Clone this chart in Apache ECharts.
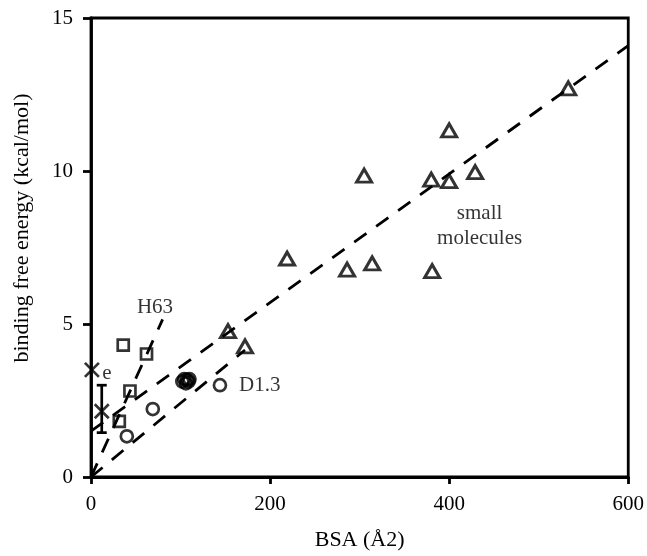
<!DOCTYPE html>
<html>
<head>
<meta charset="utf-8">
<script src="https://cdn.jsdelivr.net/npm/echarts@6/dist/echarts.min.js"></script>
<style>
  html, body { margin: 0; padding: 0; background: #fff; overflow: hidden; }
  #chart { width: 647px; height: 556px; }
</style>
</head>
<body>
<div id="chart"></div>
<script>
// Binding free energy vs buried surface area (BSA)
const xTicks = [0, 200, 400, 600];
const yTicks = [0, 5, 10, 15];

// small molecules (triangles): [BSA, ΔG]
const smallMolecules = [
  [533, 12.7], [400, 11.33], [305, 9.85], [380, 9.72], [400, 9.67],
  [429, 9.96], [219, 7.14], [286, 6.78], [314, 6.98], [381, 6.73],
  [153, 4.77], [172, 4.27]
];
// H63 series (squares)
const h63 = [[36, 4.31], [62, 4.02], [43.5, 2.81], [31.6, 1.82]];
// D1.3 series (open circles); a tight group of mutants sits near 105 Å²
const d13 = [
  [69, 2.22], [40, 1.33], [144, 3.0],
  [102, 3.12], [104, 3.2], [106, 3.06], [107, 3.18], [109, 3.12], [110, 3.2]
];
// single-point measurements (crosses)
const crosses = [[1, 3.5], [12, 2.15]];
// error bar on the second cross: [x, low, high]
const errorBars = [[12, 1.45, 3.0]];

// dashed trend lines
const lineMain = [[0, 1.5], [600, 14.1]];
const lineD13 = [[0, 0], [172, 4.15]];
const lineH63 = [[0, 0], [80, 5.15]];

// text annotations placed in data coordinates
const annotations = [
  { text: 'e', at: [17.8, 3.39] },
  { text: 'H63', at: [71.5, 5.55] },
  { text: 'D1.3', at: [188.5, 3.0] },
  { text: 'small\nmolecules', at: [434, 8.2] }
];

const FONT = '"Liberation Serif", "Times New Roman", serif';
const INK = '#000';
const LW = 2.8;

const hollow = (w) => ({ color: 'transparent', borderColor: '#000', borderWidth: w });
const dashed = { color: '#000', width: LW, type: [15, 12] };

const chart = echarts.init(document.getElementById('chart'), null, { renderer: 'canvas', width: 647, height: 556 });

chart.setOption({
  animation: false,
  backgroundColor: '#fff',
  grid: {
    left: 91, top: 18, width: 538, height: 465,
    show: true, borderColor: '#000', borderWidth: LW, backgroundColor: 'transparent'
  },
  xAxis: {
    type: 'value', min: xTicks[0], max: xTicks[xTicks.length - 1], interval: 200,
    name: 'BSA (Å2)', nameLocation: 'middle', nameGap: 52,
    nameTextStyle: { fontFamily: FONT, fontSize: 22, color: INK },
    axisLine: { show: true, lineStyle: { color: '#000', width: LW } },
    axisTick: { show: true, length: 7, lineStyle: { color: '#000', width: LW } },
    axisLabel: { fontFamily: FONT, fontSize: 21, color: INK, margin: 17 },
    splitLine: { show: false }
  },
  yAxis: {
    type: 'value', min: yTicks[0], max: yTicks[yTicks.length - 1], interval: 5,
    axisLine: { show: true, lineStyle: { color: '#000', width: LW } },
    axisTick: { show: true, length: 8, lineStyle: { color: '#000', width: LW } },
    axisLabel: { fontFamily: FONT, fontSize: 21, color: INK, margin: 18 },
    splitLine: { show: false }
  },
  graphic: [{
    type: 'text', x: 22, y: 228, rotation: Math.PI / 2,
    style: {
      text: 'binding free energy (kcal/mol)', fontFamily: FONT, fontSize: 22,
      fill: INK, align: 'center', verticalAlign: 'middle'
    }
  }],
  series: [
    { type: 'line', data: lineMain, symbol: 'none', lineStyle: dashed, clip: false, z: 2 },
    { type: 'line', data: lineD13, symbol: 'none', lineStyle: dashed, clip: false, z: 2 },
    { type: 'line', data: lineH63, symbol: 'none', lineStyle: dashed, clip: false, z: 2 },
    {
      type: 'scatter', data: smallMolecules, symbol: 'triangle', symbolSize: [15, 13],
      itemStyle: hollow(3), clip: false, z: 3
    },
    {
      type: 'scatter', data: h63, symbol: 'rect', symbolSize: 11,
      itemStyle: hollow(2.7), clip: false, z: 3
    },
    {
      type: 'scatter', data: d13, symbol: 'circle', symbolSize: 12,
      itemStyle: hollow(2.7), clip: false, z: 3
    },
    {
      type: 'scatter', data: crosses, symbol: 'path://M0,0L10,10M10,0L0,10', symbolSize: 14,
      itemStyle: hollow(2.7), clip: false, z: 3
    },
    {
      type: 'custom', data: errorBars, clip: false, z: 3,
      renderItem: (params, api) => {
        const lo = api.coord([api.value(0), api.value(1)]);
        const hi = api.coord([api.value(0), api.value(2)]);
        const cap = 5;
        const st = { stroke: '#000', lineWidth: 2.7 };
        return {
          type: 'group',
          children: [
            { type: 'line', shape: { x1: lo[0], y1: lo[1], x2: hi[0], y2: hi[1] }, style: st },
            { type: 'line', shape: { x1: lo[0] - cap, y1: lo[1], x2: lo[0] + cap, y2: lo[1] }, style: st },
            { type: 'line', shape: { x1: hi[0] - cap, y1: hi[1], x2: hi[0] + cap, y2: hi[1] }, style: st }
          ]
        };
      }
    },
    {
      type: 'scatter', symbolSize: 0, clip: false, silent: true, z: 4,
      data: annotations.map(a => ({ value: a.at, name: a.text })),
      label: {
        show: true, position: 'inside', formatter: p => p.name,
        fontFamily: FONT, fontSize: 21, color: INK, lineHeight: 25, align: 'center'
      }
    }
  ]
});
</script>
</body>
</html>
